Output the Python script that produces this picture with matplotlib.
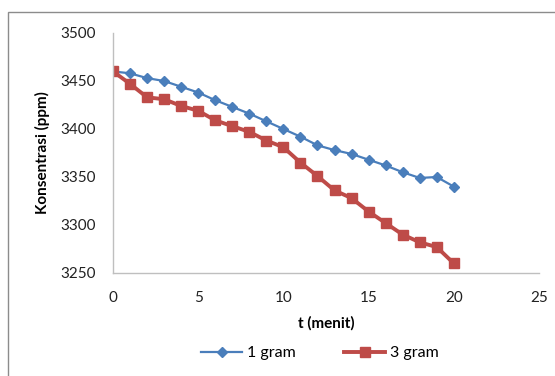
import matplotlib
matplotlib.use("Agg")
import matplotlib.pyplot as plt
from matplotlib.patches import Rectangle

t = list(range(0, 21))
gram1 = [3460, 3458, 3453, 3450, 3444, 3438, 3430, 3423, 3416, 3408, 3400,
         3392, 3383, 3378, 3374, 3368, 3362, 3355, 3349, 3350, 3340]
gram3 = [3460, 3447, 3433, 3431, 3424, 3419, 3409, 3403, 3397, 3388, 3381,
         3365, 3351, 3336, 3328, 3314, 3302, 3290, 3282, 3277, 3260]
labels = ["1 gram", "3 gram"]
xticks = [0, 5, 10, 15, 20, 25]
yticks = [3250, 3300, 3350, 3400, 3450, 3500]

plt.rcParams['font.family'] = ['Lato', 'DejaVu Sans']

fig = plt.figure(figsize=(5.55, 3.76), dpi=100)
fig.patch.set_facecolor('white')
# outer chart border
fig.add_artist(Rectangle((8/555, -0.1), 1.2, 1 - 12/376 + 0.1, transform=fig.transFigure,
                         fill=False, edgecolor='#8c8c8c', linewidth=1.0))

ax = fig.add_axes([113/555, 1 - 273/376, (539 - 113)/555, (273 - 33)/376])
ax.plot(t, gram1, color='#4A7EBB', linewidth=1.6, marker='D', markersize=5,
        label=labels[0])
ax.plot(t, gram3, color='#BE4B48', linewidth=2.8, marker='s', markersize=6.5,
        label=labels[1])

ax.set_xlim(0, 25)
ax.set_ylim(3250, 3500)
ax.set_xticks(xticks)
ax.set_yticks(yticks)
ax.tick_params(length=0, labelsize=11, colors='#222222')
ax.tick_params(axis='x', pad=13)
ax.tick_params(axis='y', pad=12)
for s in ['top', 'right']:
    ax.spines[s].set_visible(False)
for s in ['left', 'bottom']:
    ax.spines[s].set_color('#bfbfbf')
    ax.spines[s].set_linewidth(1.0)

ax.set_xlabel('t (menit)', fontsize=11, fontweight='bold', labelpad=8)
ax.set_ylabel('Konsentrasi (ppm)', fontsize=11, fontweight='bold', labelpad=8)

ax.legend(loc='center', bbox_to_anchor=((320 - 113)/426, -(353 - 273)/240), ncol=2,
          frameon=False, fontsize=11.5, handlelength=2.6, columnspacing=3.0,
          handletextpad=0.3)

fig.savefig('out.png', dpi=100)
